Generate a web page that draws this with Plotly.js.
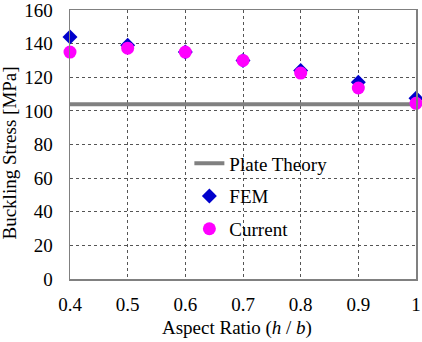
<!DOCTYPE html>
<html><head><meta charset="utf-8">
<script src="https://cdn.plot.ly/plotly-3.0.1.min.js"></script>
<style>html,body{margin:0;padding:0;background:#fff;}#chart{width:422px;height:342px;}</style>
</head><body><div id="chart"></div>
<script>
const aspectRatio = [0.4, 0.5, 0.6, 0.7, 0.8, 0.9, 1.0];
const femStress = [144, 139, 135, 130, 124, 117, 107.5];
const currentStress = [135, 137.3, 135, 130, 122.5, 113.6, 104.5];
const plateX = [0.4, 1.0];
const plateStress = [104, 104];
const xTickVals = [0.4, 0.5, 0.6, 0.7, 0.8, 0.9, 1.0];
const xTickText = ['0.4', '0.5', '0.6', '0.7', '0.8', '0.9', '1'];
const yTickVals = [0, 20, 40, 60, 80, 100, 120, 140, 160];
const xTitle = 'Aspect Ratio (<i>h</i> / <i>b</i>)';
const yTitle = 'Buckling Stress [MPa]';

const font = {family: '"Liberation Serif", "Times New Roman", serif', size: 19, color: '#000'};
const traces = [
  {x: plateX, y: plateStress, mode: 'lines', name: 'Plate Theory', line: {color: '#808080', width: 4}, legendgroup: 'a', cliponaxis: false},
  {x: aspectRatio, y: femStress, mode: 'markers', name: 'FEM', marker: {symbol: 'diamond', size: 11.5, color: '#0000CC'}, legendgroup: 'b', cliponaxis: false},
  {x: aspectRatio, y: currentStress, mode: 'markers', name: 'Current', marker: {symbol: 'circle', size: 13, color: '#FF00FF'}, legendgroup: 'c', cliponaxis: false}
];
const layout = {
  width: 422, height: 342,
  margin: {l: 70, r: 6, t: 10, b: 63},
  paper_bgcolor: '#fff', plot_bgcolor: '#fff',
  font: font,
  showlegend: true,
  legend: {x: 0.345, y: 0.5, xanchor: 'left', yanchor: 'top', bgcolor: 'rgba(0,0,0,0)', tracegroupgap: 5, itemwidth: 30, font: font, borderwidth: 0},
  shapes: [
    {type: 'rect', xref: 'paper', yref: 'paper', x0: 0.306, x1: 0.795, y0: 0.123, y1: 0.49, fillcolor: '#fff', line: {width: 0}, layer: 'between'}
  ],
  annotations: [
    {text: xTitle, xref: 'paper', yref: 'paper', x: 0.483, y: -0.182, xanchor: 'center', yanchor: 'middle', showarrow: false, font: font},
    {text: yTitle, xref: 'paper', yref: 'paper', x: -0.176, y: 0.467, xanchor: 'center', yanchor: 'middle', textangle: -90, showarrow: false, font: font}
  ],
  xaxis: {range: [0.4, 1.0], tickvals: xTickVals, ticktext: xTickText, showgrid: true, gridcolor: '#555', griddash: 'dot', gridwidth: 1,
    showline: true, linecolor: '#808080', linewidth: 1.5, mirror: true, zeroline: false, ticks: 'outside', ticklen: 8, tickcolor: 'rgba(0,0,0,0)',
    ticklabeloverflow: 'allow', tickfont: font},
  yaxis: {range: [0, 160], tickvals: yTickVals, showgrid: true, gridcolor: '#555', griddash: 'dot', gridwidth: 1,
    showline: true, linecolor: '#808080', linewidth: 1.5, mirror: true, zeroline: false, ticks: 'outside', ticklen: 12, tickcolor: 'rgba(0,0,0,0)',
    ticklabeloverflow: 'allow', tickfont: font}
};
Plotly.newPlot('chart', traces, layout, {displayModeBar: false, staticPlot: true});
</script></body></html>
